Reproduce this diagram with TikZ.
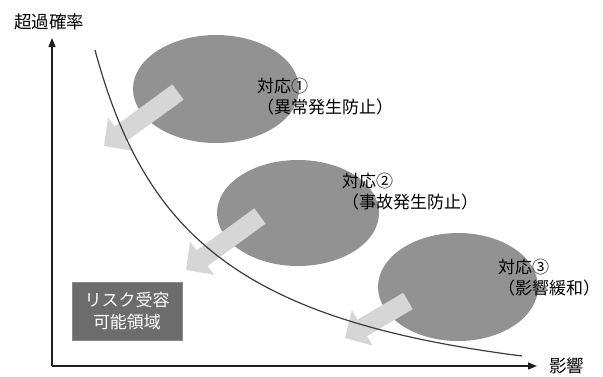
\documentclass[tikz,border=0pt]{standalone}
\usepackage{fontspec}
\newfontfamily\jp{Noto Sans CJK JP}
\usetikzlibrary{arrows.meta}
\definecolor{ellgray}{RGB}{146,146,146}
\definecolor{boxgray}{RGB}{108,108,108}
\definecolor{arrgray}{RGB}{214,214,214}
\definecolor{axisgray}{RGB}{30,30,30}
\definecolor{curvegray}{RGB}{60,60,60}
\tikzset{
  lbl/.style={font=\jp\fontsize{17}{21}\selectfont, align=left, anchor=west, inner sep=0pt},
  axlbl/.style={font=\jp\fontsize{17.5}{21}\selectfont, inner sep=0pt},
  fatarrow/.style={draw=arrgray, line width=19pt, -{Triangle[width=40pt,length=20pt]}},
  axis/.style={draw=axisgray, line width=1.3pt, -{Triangle[width=7pt,length=9pt]}},
  riskbox/.style={fill=boxgray, draw=boxgray!80!white, line width=0.6pt, text=white,
     font=\jp\fontsize{17}{22}\selectfont, align=center, minimum width=110pt, minimum height=58pt, inner sep=0pt}
}
\begin{document}
\begin{tikzpicture}[x=1pt,y=-1pt]
\useasboundingbox (0,0) rectangle (603,376);
% ellipses
\fill[ellgray] (216,89) ellipse [x radius=83, y radius=54];
\fill[ellgray] (298,213) ellipse [x radius=81, y radius=53];
\fill[ellgray] (458,287) ellipse [x radius=80, y radius=54];
% arrows
\coordinate (a1s) at (178,92);
\coordinate (a1t) at (104,146);
\coordinate (a2s) at (260,216);
\coordinate (a2t) at (186,270);
\coordinate (a3s) at (408,301);
\coordinate (a3t) at (345,338);
\draw[fatarrow] (a1s) -- (a1t);
\draw[fatarrow] (a2s) -- (a2t);
\draw[fatarrow] (a3s) -- (a3t);
% curve
\coordinate (c0) at (95,50);
\coordinate (c3) at (522,356);
\draw[curvegray, line width=1.2pt] (c0) .. controls (145,235) and (240,320) .. (c3);
% axes
\coordinate (o) at (52,366);
\coordinate (ytop) at (52,38);
\coordinate (xend) at (537,366);
\draw[axis] (o) -- (ytop);
\draw[axis] (o) -- (xend);
\node[axlbl, anchor=west] (ylab) at (14,22) {超過確率};
\node[axlbl, anchor=west] (xlab) at (549,366) {影響};
% labels
\node[lbl] (t1) at (257,97) {対応①\\（異常発生防止）};
\node[lbl] (t2) at (342,192) {対応②\\（事故発生防止）};
\node[lbl] (t3) at (498,278) {対応③\\（影響緩和）};
% risk box
\node[riskbox] (rb) at (127,311) {リスク受容\\可能領域};
\end{tikzpicture}
\end{document}
